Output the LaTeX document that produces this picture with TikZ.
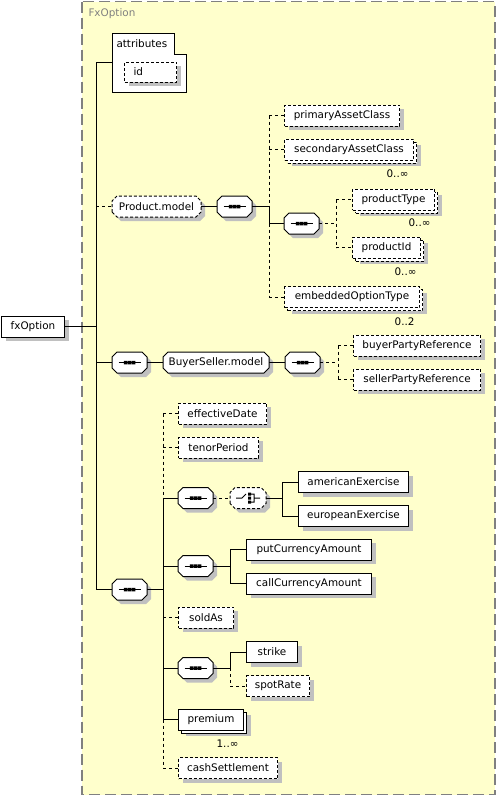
\documentclass[tikz,border=0pt]{standalone}
\usepackage{fontspec}
\setmainfont{DejaVu Sans}
\usepackage{tikz}
\usetikzlibrary{positioning,calc,shadows}
\definecolor{groupfill}{HTML}{FFFFCC}
\definecolor{groupline}{HTML}{808080}
\definecolor{shadowgray}{HTML}{C0C0C0}
\makeatletter
\pgfdeclareshape{octagonbox}{
  \inheritsavedanchors[from=rectangle]
  \inheritanchorborder[from=rectangle]
  \inheritanchor[from=rectangle]{center}
  \inheritanchor[from=rectangle]{north}
  \inheritanchor[from=rectangle]{south}
  \inheritanchor[from=rectangle]{east}
  \inheritanchor[from=rectangle]{west}
  \inheritanchor[from=rectangle]{north east}
  \inheritanchor[from=rectangle]{north west}
  \inheritanchor[from=rectangle]{south east}
  \inheritanchor[from=rectangle]{south west}
  \backgroundpath{
    \southwest \edef\octlx{\the\pgf@x}\edef\octly{\the\pgf@y}
    \northeast \edef\octux{\the\pgf@x}\edef\octuy{\the\pgf@y}
    \pgfpathmoveto{\pgfpoint{\octlx}{\octly+5pt}}
    \pgfpathlineto{\pgfpoint{\octlx}{\octuy-5pt}}
    \pgfpathlineto{\pgfpoint{\octlx+5pt}{\octuy}}
    \pgfpathlineto{\pgfpoint{\octux-5pt}{\octuy}}
    \pgfpathlineto{\pgfpoint{\octux}{\octuy-5pt}}
    \pgfpathlineto{\pgfpoint{\octux}{\octly+5pt}}
    \pgfpathlineto{\pgfpoint{\octux-5pt}{\octly}}
    \pgfpathlineto{\pgfpoint{\octlx+5pt}{\octly}}
    \pgfpathclose
  }
}
\makeatother
\tikzset{
  lbl/.style={font=\fontsize{10.4}{12}\selectfont, inner sep=0pt},
  elem/.style={lbl, draw, fill=white, anchor=west, inner xsep=4pt,
    minimum height=21pt,
    drop shadow={shadow xshift=4pt, shadow yshift=-4pt, fill=shadowgray, opacity=1}},
  elems/.style={lbl, draw, fill=white, anchor=west, inner xsep=4pt,
    minimum height=21pt,
    drop shadow={shadow xshift=7pt, shadow yshift=-6pt, fill=shadowgray, opacity=1},
    copy shadow={shadow xshift=3pt, shadow yshift=-3pt, fill=white}},
  opt/.style={dash pattern=on 3pt off 2pt},
  optline/.style={dash pattern=on 3pt off 3pt},
  model/.style={lbl, draw, fill=white, anchor=west, shape=octagonbox,
    minimum height=20pt,
    drop shadow={shadow xshift=4pt, shadow yshift=-4pt, fill=shadowgray, opacity=1}},
  seq/.style={model, minimum width=34pt, path picture={
      \draw[shift={(path picture bounding box.center)}] (-11,0) -- (11,0);
      \fill[black, shift={(path picture bounding box.center)}]
        (-5.75,-1.75) rectangle (-2.25,1.75) (-1.75,-1.75) rectangle (1.75,1.75)
        (2.25,-1.75) rectangle (5.75,1.75);}},
  choice/.style={model, opt, minimum width=35pt, path picture={
      \draw[solid, shift={(path picture bounding box.center)}]
        (-12,0) -- (-6,0) -- (-2,-4) (3,-4) -- (6,-4) -- (6,4) -- (3,4)
        (6,0) -- (12,0);
      \fill[black, shift={(path picture bounding box.center)}]
        (0,-5.5) rectangle (3,-2.5) (0,-1.5) rectangle (3,1.5)
        (0,2.5) rectangle (3,5.5);}},
  mult/.style={lbl, anchor=east}
}

\begin{document}
\begin{tikzpicture}[x=1pt, y=-1pt, line width=1pt]
  \useasboundingbox (0,0) rectangle (497,796);
  \draw[groupline, line width=1.5pt, dash pattern=on 11pt off 5pt, fill=groupfill]
    (82,1.5) rectangle (495,794.5);
  \node[lbl, anchor=west, text=groupline] (grouplbl) at (88,13.5) {FxOption};

  \node[elem, minimum width=63pt] (fxoption) at (1,326.5) {fxOption};
  \coordinate (sp) at (96,326.5);

  \draw[fill=white] (112,33) -- (174,33) -- (174,54) -- (186,54) -- (186,92) -- (112,92) -- cycle;
  \node[lbl, anchor=west] (attrlbl) at (116,43.5) {attributes};
  \coordinate (attr) at (112,62);
  \node[elem, opt, minimum height=20pt, inner xsep=9pt, text width=34pt, align=left] (id) at (124,72) {id};

  \node[model, opt, minimum width=88pt] (prodmodel) at (112,206.5) {Product.model};
  \node[seq] (seqa) at (217,206.5) {};
  \coordinate (va) at (269,206.5);
  \node[elem, opt, minimum width=115pt] (pac) at (284,115.5) {primaryAssetClass};
  \node[elems, opt, minimum width=129pt] (sac) at (284,149.5) {secondaryAssetClass};
  \node[mult] (sacmult) at ([shift={(-5,13)}]sac.south east) {0..∞};
  \node[seq] (seqb) at (284,223.5) {};
  \coordinate (vb) at (336,223.5);
  \node[elems, opt, minimum width=82pt] (ptype) at (352,199.5) {productType};
  \node[mult] (ptypemult) at ([shift={(-4,12)}]ptype.south east) {0..∞};
  \node[elems, opt, minimum width=68pt] (pid) at (352,247.5) {productId};
  \node[mult] (pidmult) at ([shift={(-4,13.5)}]pid.south east) {0..∞};
  \node[elems, opt, minimum width=135pt] (eot) at (284,297) {embeddedOptionType};
  \node[mult] (eotmult) at ([shift={(-5,13.5)}]eot.south east) {0..2};

  \node[seq] (seqc) at (112,362.5) {};
  \node[model, minimum width=105pt] (bsmodel) at (163,362.5) {BuyerSeller.model};
  \node[seq] (seqd) at (285,362.5) {};
  \coordinate (vd) at (338,362.5);
  \node[elem, opt, minimum width=127pt] (bpr) at (353,345.5) {buyerPartyReference};
  \node[elem, opt, minimum width=127pt] (spr) at (353,379.5) {sellerPartyReference};

  \node[seq] (seqe) at (112,589.5) {};
  \coordinate (ve) at (163,589.5);
  \node[elem, opt, minimum width=88pt] (effdate) at (178,413.5) {effectiveDate};
  \node[elem, opt, minimum width=80pt] (tenor) at (178,447.5) {tenorPeriod};
  \node[seq] (seqf) at (178,498) {};
  \node[choice] (choice) at (230,498) {};
  \coordinate (vf) at (282,498);
  \node[elem, minimum width=110pt] (amex) at (298,482) {americanExercise};
  \node[elem, minimum width=110pt] (euex) at (298,516) {europeanExercise};
  \node[seq] (seqg) at (178,566) {};
  \coordinate (vg) at (230,566);
  \node[elem, minimum width=125pt] (putca) at (246,549.5) {putCurrencyAmount};
  \node[elem, minimum width=125pt] (callca) at (246,583.5) {callCurrencyAmount};
  \node[elem, opt, minimum width=55pt] (soldas) at (178,617.5) {soldAs};
  \node[seq] (seqh) at (178,668) {};
  \coordinate (vh) at (230,668);
  \node[elem, minimum width=51pt] (strike) at (246,652) {strike};
  \node[elem, opt, minimum width=63pt] (spot) at (246,686) {spotRate};
  \node[elems, minimum width=65pt] (premium) at (178,719.5) {premium};
  \node[mult] (premmult) at ([shift={(-5,13)}]premium.south east) {1..∞};
  \node[elem, opt, minimum width=99pt] (cashs) at (178,768) {cashSettlement};

  \draw (fxoption.east) -- (sp);
  \draw (sp |- attr) -- (sp |- seqe.west);
  \draw (sp |- attr) -- (attr);
  \draw[optline] (sp |- prodmodel.west) -- (prodmodel.west);
  \draw (sp |- seqc.west) -- (seqc.west);
  \draw (sp |- seqe.west) -- (seqe.west);

  \draw (prodmodel.east) -- (seqa.west);
  \draw (seqa.east) -- (va);
  \draw[optline] (va |- pac.west) -- (va);
  \draw (va) -- (va |- seqb.west);
  \draw[optline] (va |- seqb.west) -- (va |- eot.west);
  \draw[optline] (va |- pac.west) -- (pac.west);
  \draw[optline] (va |- sac.west) -- (sac.west);
  \draw (va |- seqb.west) -- (seqb.west);
  \draw[optline] (va |- eot.west) -- (eot.west);
  \draw[optline] (seqb.east) -- (vb);
  \draw[optline] (vb |- ptype.west) -- (vb |- pid.west);
  \draw[optline] (vb |- ptype.west) -- (ptype.west);
  \draw[optline] (vb |- pid.west) -- (pid.west);

  \draw (seqc.east) -- (bsmodel.west);
  \draw (bsmodel.east) -- (seqd.west);
  \draw[optline] (seqd.east) -- (vd);
  \draw[optline] (vd |- bpr.west) -- (vd |- spr.west);
  \draw[optline] (vd |- bpr.west) -- (bpr.west);
  \draw[optline] (vd |- spr.west) -- (spr.west);

  \draw (seqe.east) -- (ve);
  \draw[optline] (ve |- effdate.west) -- (ve |- seqf.west);
  \draw (ve |- seqf.west) -- (ve |- premium.west);
  \draw[optline] (ve |- premium.west) -- (ve |- cashs.west);
  \draw[optline] (ve |- effdate.west) -- (effdate.west);
  \draw[optline] (ve |- tenor.west) -- (tenor.west);
  \draw (ve |- seqf.west) -- (seqf.west);
  \draw (ve |- seqg.west) -- (seqg.west);
  \draw[optline] (ve |- soldas.west) -- (soldas.west);
  \draw (ve |- seqh.west) -- (seqh.west);
  \draw (ve |- premium.west) -- (premium.west);
  \draw[optline] (ve |- cashs.west) -- (cashs.west);

  \draw[optline] (seqf.east) -- (choice.west);
  \draw (choice.east) -- (vf);
  \draw (vf |- amex.west) -- (vf |- euex.west);
  \draw (vf |- amex.west) -- (amex.west);
  \draw (vf |- euex.west) -- (euex.west);

  \draw (seqg.east) -- (vg);
  \draw (vg |- putca.west) -- (vg |- callca.west);
  \draw (vg |- putca.west) -- (putca.west);
  \draw (vg |- callca.west) -- (callca.west);

  \draw (seqh.east) -- (vh);
  \draw (vh |- strike.west) -- (vh);
  \draw[optline] (vh) -- (vh |- spot.west);
  \draw (vh |- strike.west) -- (strike.west);
  \draw[optline] (vh |- spot.west) -- (spot.west);
\end{tikzpicture}
\end{document}
